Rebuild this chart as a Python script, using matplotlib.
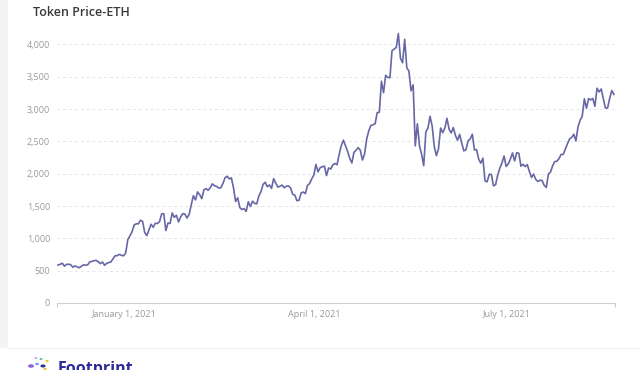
import numpy as np
import pandas as pd
import matplotlib
matplotlib.use('Agg')
import matplotlib.pyplot as plt
import matplotlib.dates as mdates
from matplotlib.ticker import FuncFormatter, FixedLocator
from matplotlib.patches import Circle, Rectangle

plt.rcParams['font.family'] = ['Open Sans', 'DejaVu Sans']

# daily ETH price, Dec 1 2020 -> Aug 21 2021
dec_2020 = [587, 598, 616, 569, 596, 601, 591, 554, 573, 560, 545, 568, 590, 586, 589,
            636, 643, 655, 659, 639, 609, 634, 584, 612, 626, 635, 683, 731, 732, 752, 737]
jan_2021 = [730, 775, 979, 1041, 1100, 1208, 1225, 1224, 1281, 1262, 1090, 1043, 1130, 1218,
            1171, 1233, 1230, 1257, 1377, 1382, 1121, 1236, 1231, 1392, 1324, 1357, 1253,
            1332, 1382, 1376, 1314]
feb_2021 = [1369, 1515, 1660, 1594, 1718, 1677, 1614, 1750, 1769, 1744, 1783, 1843, 1814,
            1804, 1779, 1781, 1848, 1937, 1960, 1919, 1935, 1781, 1570, 1626, 1475, 1446,
            1459, 1417]
mar_2021 = [1565, 1492, 1575, 1541, 1533, 1655, 1723, 1834, 1868, 1799, 1826, 1772, 1924,
            1854, 1792, 1806, 1823, 1782, 1808, 1810, 1781, 1681, 1669, 1583, 1588, 1702,
            1716, 1692, 1818, 1846, 1919]
apr_2021 = [1977, 2143, 2028, 2093, 2107, 2118, 1971, 2089, 2072, 2136, 2158, 2139, 2299,
            2435, 2519, 2431, 2344, 2237, 2166, 2330, 2364, 2403, 2363, 2211, 2303, 2534,
            2662, 2747, 2757, 2772]
may_2021 = [2945, 2950, 3431, 3253, 3522, 3490, 3484, 3902, 3928, 3952, 4168, 3785, 3715,
            4079, 3638, 3587, 3282, 3374, 2430, 2772, 2431, 2302, 2123, 2643, 2706, 2888,
            2736, 2419, 2279, 2386, 2706]
jun_2021 = [2634, 2707, 2856, 2688, 2631, 2714, 2592, 2517, 2608, 2472, 2353, 2372, 2508,
            2537, 2610, 2367, 2373, 2225, 2163, 2240, 1888, 1874, 1990, 1990, 1812, 1830,
            1978, 2085, 2164, 2274]
jul_2021 = [2113, 2150, 2226, 2321, 2198, 2324, 2316, 2115, 2146, 2110, 2140, 2035, 1941,
            1995, 1912, 1880, 1899, 1895, 1820, 1787, 1995, 2026, 2124, 2188, 2192, 2233,
            2298, 2299, 2382, 2462, 2536]
aug_2021 = [2561, 2610, 2506, 2725, 2827, 2890, 3158, 3012, 3163, 3141, 3164, 3043, 3322,
            3265, 3310, 3156, 3014, 3017, 3167, 3286, 3226]

prices = dec_2020 + jan_2021 + feb_2021 + mar_2021 + apr_2021 + may_2021 + jun_2021 + jul_2021 + aug_2021
dates = pd.date_range('2020-12-01', periods=len(prices), freq='D')

x_ticks = pd.to_datetime(['2021-01-01', '2021-04-01', '2021-07-01'])
x_labels = ['January 1, 2021', 'April 1, 2021', 'July 1, 2021']
y_ticks = [0, 500, 1000, 1500, 2000, 2500, 3000, 3500, 4000]

fig = plt.figure(figsize=(6.4, 3.7), dpi=100)
fig.patch.set_facecolor('white')

# light strip on the left edge, footer separator
fig.patches.append(Rectangle((0, 1 - 348 / 370), 8 / 640, 348 / 370, transform=fig.transFigure,
                             facecolor='#f4f4f6', edgecolor='none', zorder=0))
fig.add_artist(plt.Line2D([8 / 640, 1], [1 - 348 / 370] * 2, transform=fig.transFigure,
                          color='#eeeeee', lw=0.8))

ax = fig.add_axes([57 / 640, 1 - 303 / 370, (615 - 57) / 640, (303 - 25) / 370])
ax.plot(dates, prices, color='#6767a6', lw=1.2, solid_joinstyle='round')

ax.set_xlim(dates[0] - pd.Timedelta(hours=12), dates[-1] + pd.Timedelta(hours=12))
ax.set_ylim(0, 4300)

ax.xaxis.set_major_locator(FixedLocator(mdates.date2num(x_ticks)))
ax.set_xticklabels(x_labels)
ax.xaxis.set_minor_locator(FixedLocator(list(ax.get_xlim())))
ax.set_yticks(y_ticks)
ax.yaxis.set_major_formatter(FuncFormatter(lambda v, p: f'{int(v):,}'))

ax.tick_params(axis='x', which='major', length=0, pad=5, labelsize=6.5, labelcolor='#9a9a9a')
ax.tick_params(axis='x', which='minor', length=3, color='#cccccc', width=0.8)
ax.tick_params(axis='y', length=0, pad=5, labelsize=6.5, labelcolor='#9a9a9a')

for s in ['top', 'right', 'left']:
    ax.spines[s].set_visible(False)
ax.spines['bottom'].set_color('#d0d0d0')
ax.spines['bottom'].set_linewidth(0.8)

ax.grid(axis='y', color='#e6e6e6', lw=0.7, linestyle=(0, (3, 3)))
ax.set_axisbelow(True)

fig.text(33 / 640, 1 - 12 / 370, 'Token Price-ETH', fontsize=9, fontweight='semibold',
         color='#3a3a3a', va='center', ha='left')

# footer logo, cut by the bottom edge as in the source
for (cx, cy, r, c) in [(31, 366, 3.0, '#8a63d8'), (37, 364, 2.0, '#6b9ff0'),
                       (43, 366, 2.6, '#2d2a9a'), (41, 359, 1.6, '#48c18f'),
                       (47, 361, 1.8, '#f2c230'), (36, 358, 1.4, '#b98ee8'),
                       (45, 369, 1.8, '#f2c230')]:
    fig.patches.append(Circle((cx / 640, 1 - cy / 370), r / 640, transform=fig.transFigure,
                              facecolor=c, edgecolor='none'))
fig.text(58 / 640, 1 - 373 / 370, 'Footprint', fontsize=11.5, fontweight='bold',
         color='#2d2a9a', va='baseline', ha='left')

fig.savefig('out.png', dpi=100)
